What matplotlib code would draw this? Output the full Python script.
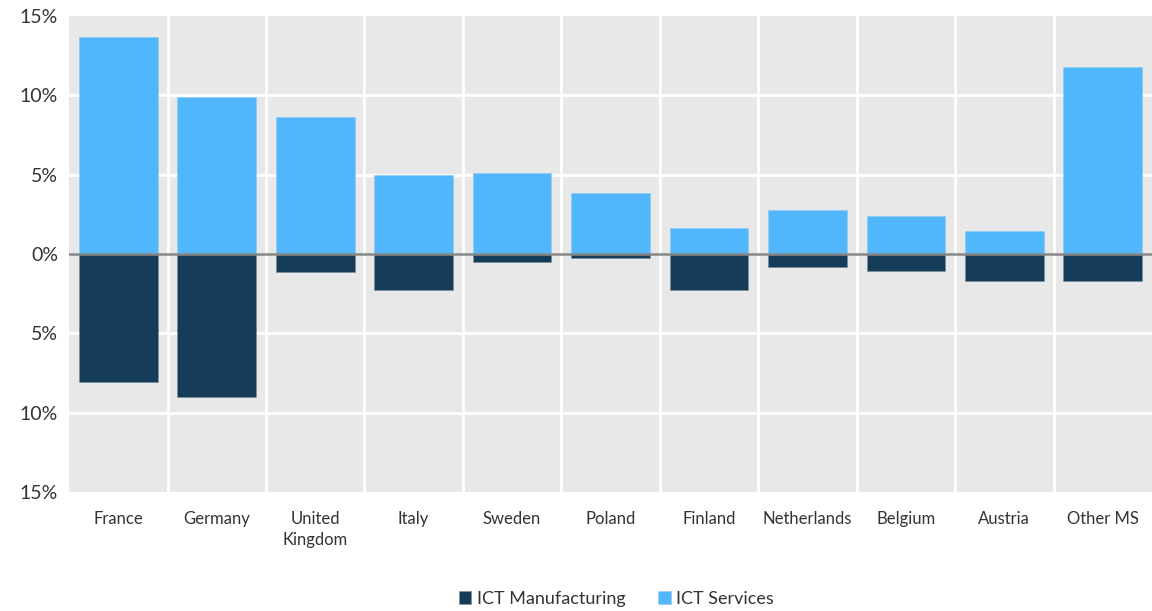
import matplotlib
matplotlib.use("Agg")
from matplotlib import pyplot as plt
from matplotlib.ticker import FuncFormatter, MultipleLocator
import numpy as np

countries = ["France", "Germany", "United\nKingdom", "Italy", "Sweden", "Poland",
             "Finland", "Netherlands", "Belgium", "Austria", "Other MS"]
ict_services = [13.65, 9.9, 8.65, 4.95, 5.1, 3.85, 1.65, 2.75, 2.4, 1.42, 11.75]
ict_manufacturing = [-8.05, -9.05, -1.13, -2.3, -0.5, -0.25, -2.25, -0.8, -1.07, -1.7, -1.7]

dark = "#143C58"
light = "#52B6FB"

plt.rcParams["font.family"] = ["Lato", "DejaVu Sans"]

fig = plt.figure(figsize=(11.52, 6.11), dpi=100)
ax = fig.add_axes([0.06, 0.195, 0.94, 0.779])
ax.set_facecolor("#E8E8E8")

x = np.arange(len(countries))
ax.bar(x, ict_manufacturing, width=0.8, color=dark, edgecolor="#7A8C9A", linewidth=0.4,
       label="ICT Manufacturing", zorder=3)
ax.bar(x, ict_services, width=0.8, color=light, edgecolor="#8CCBF5", linewidth=0.4,
       label="ICT Services", zorder=3)
ax.axhline(0, color="#888888", linewidth=1.8, zorder=4)

ax.set_xlim(-0.5, len(countries) - 0.5)
ax.set_ylim(-15, 15)
ax.yaxis.set_major_locator(MultipleLocator(5))
ax.yaxis.set_major_formatter(FuncFormatter(lambda v, p: f"{abs(v):.0f}%"))

# white grid between categories and at every 5%
for b in np.arange(0.5, len(countries) - 0.5, 1):
    ax.axvline(b, color="white", linewidth=2, zorder=1)
for yv in [-10, -5, 5, 10]:
    ax.axhline(yv, color="white", linewidth=2, zorder=1)

ax.set_xticks(x)
ax.set_xticklabels(countries, fontsize=12, color="#333333", linespacing=1.4)
ax.tick_params(axis="x", length=0, pad=14)
ax.tick_params(axis="y", length=0, pad=8, labelsize=14, labelcolor="#333333")
for s in ax.spines.values():
    s.set_visible(False)

fig.legend(loc="lower center", bbox_to_anchor=(0.535, -0.02), ncol=2, frameon=False,
           fontsize=13, handlelength=0.7, handleheight=0.7, handletextpad=0.3,
           columnspacing=1.8, labelcolor="#333333")

fig.savefig("out.png", dpi=100)
